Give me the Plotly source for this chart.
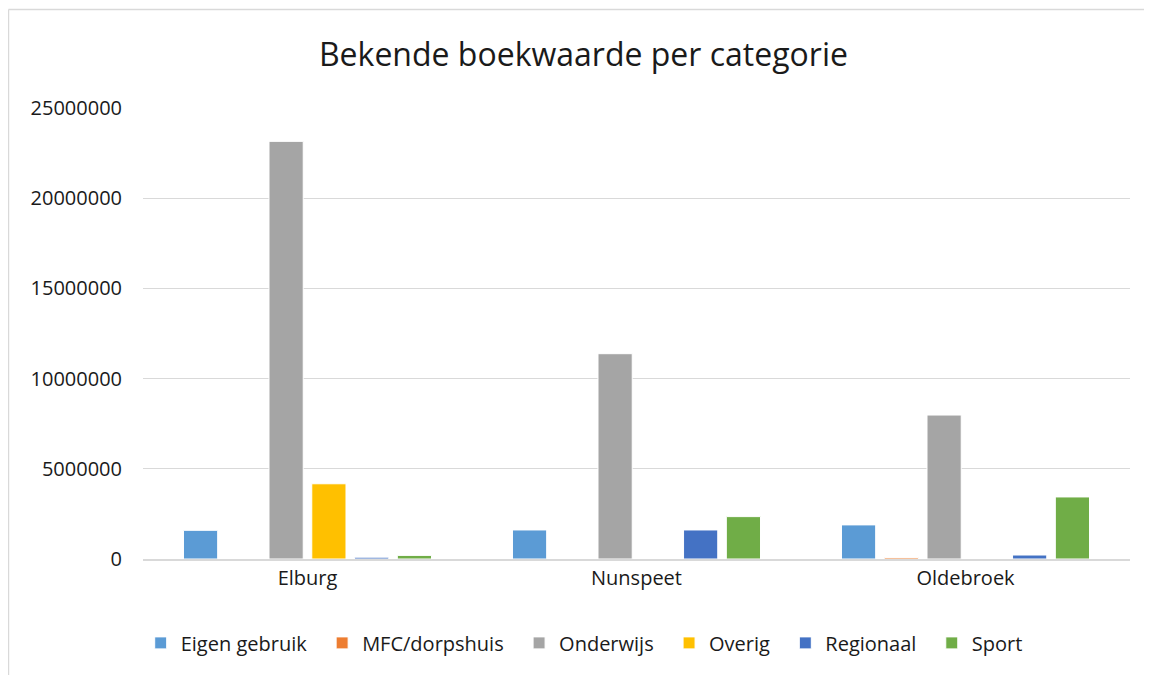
import plotly.graph_objects as go

gemeenten = ["Elburg", "Nunspeet", "Oldebroek"]

eigen_gebruik = [1590000, 1610000, 1890000]
mfc_dorpshuis = [0, 0, 80000]
onderwijs = [23150000, 11380000, 7980000]
overig = [4170000, 0, 0]
regionaal = [100000, 1610000, 220000]
sport = [200000, 2350000, 3440000]

series = [
    ("Eigen gebruik", eigen_gebruik, "#5B9BD5"),
    ("MFC/dorpshuis", mfc_dorpshuis, "#ED7D31"),
    ("Onderwijs", onderwijs, "#A5A5A5"),
    ("Overig", overig, "#FFC000"),
    ("Regionaal", regionaal, "#4472C4"),
    ("Sport", sport, "#70AD47"),
]

fig = go.Figure()
for i, (naam, waarden, kleur) in enumerate(series):
    # a little extra room after each legend label, like the Excel legend
    label = naam if i == len(series) - 1 else naam + "\u00a0\u00a0"
    fig.add_trace(go.Bar(x=gemeenten, y=waarden, name=label,
                         marker=dict(color=kleur, line=dict(color="white", width=1))))

font = "Open Sans"
tekst = "#1a1a1a"

# page has an 8px body margin, so the figure is a bit smaller than the window
fig.update_layout(
    width=1144, height=667,
    plot_bgcolor="white", paper_bgcolor="white",
    margin=dict(l=135, r=22, t=100, b=116),
    barmode="group", bargap=0.22, bargroupgap=0.2,
    font=dict(family=font, size=20, color=tekst),
    title=dict(text="Bekende boekwaarde per categorie", x=0.503, xanchor="center",
               y=0.9295, yanchor="middle",
               font=dict(family=font, size=32, color=tekst)),
    legend=dict(orientation="h", x=0.447, xanchor="center", y=-0.186, yanchor="middle",
                font=dict(family=font, size=20, color=tekst),
                itemwidth=30, traceorder="normal"),
    xaxis=dict(showgrid=False, showline=True, linecolor="#d9d9d9", linewidth=1.5,
               ticks="", tickfont=dict(size=20, color=tekst)),
    yaxis=dict(range=[0, 25000000], dtick=5000000, tickformat="d",
               showgrid=True, gridcolor="#d9d9d9", gridwidth=1.2,
               zeroline=False, ticks="", ticklabelstandoff=20,
               tickfont=dict(size=20, color=tekst)),
)

# chart frame (light grey border, partly outside the window)
fig.add_shape(type="line", xref="paper", yref="paper",
              x0=-0.1363, x1=-0.1363, y0=-0.4, y1=1.2184,
              line=dict(color="#d9d9d9", width=1.5))
fig.add_shape(type="line", xref="paper", yref="paper",
              x0=-0.1363, x1=1.1, y0=1.2184, y1=1.2184,
              line=dict(color="#d9d9d9", width=1.5))

fig.write_html("out.html")
